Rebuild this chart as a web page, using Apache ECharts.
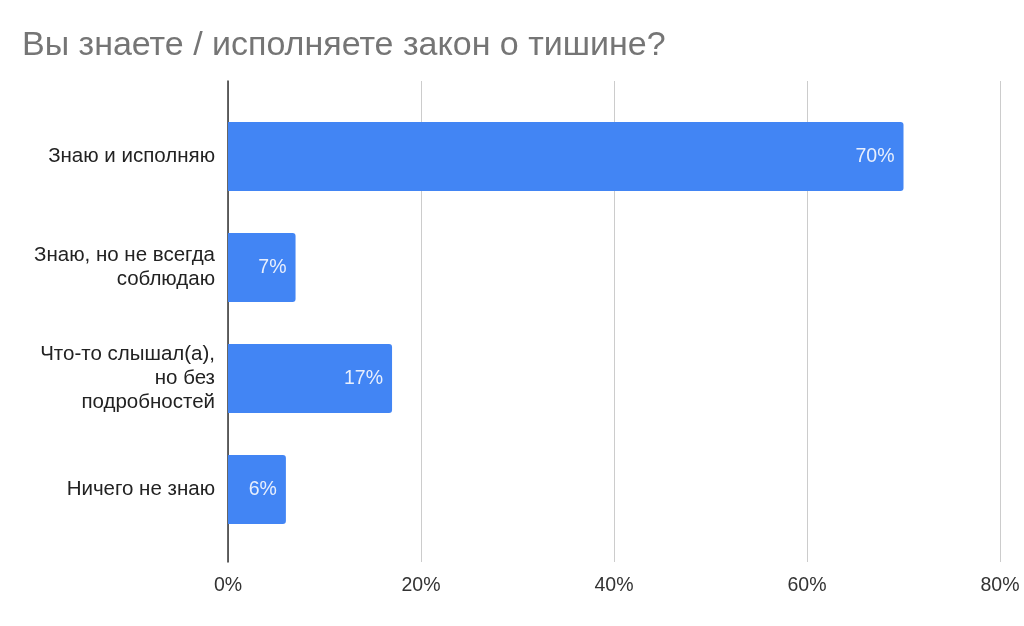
<!DOCTYPE html>
<html><head><meta charset="utf-8">
<script src="https://cdn.jsdelivr.net/npm/echarts@6/dist/echarts.min.js"></script>
<style>html,body{margin:0;padding:0;background:#fff}#c{width:1024px;height:626px}</style>
</head><body><div id="c"></div>
<script>
const titleText = 'Вы знаете / исполняете закон о тишине?';
const categories = ['Знаю и исполняю', 'Знаю, но не всегда\nсоблюдаю', 'Что-то слышал(а),\nно без\nподробностей', 'Ничего не знаю'];
const values = [70, 7, 17, 6];
const xTicks = [0, 20, 40, 60, 80];

const chart = echarts.init(document.getElementById('c'));
const font = '"Liberation Sans", Arial, sans-serif';
chart.setOption({
  animation: false,
  title: { text: titleText, left: 17, top: 24, textStyle: { fontFamily: font, fontSize: 34, fontWeight: 'normal', color: '#757575' } },
  grid: [
    { left: 228, right: 24, top: 101, bottom: 81 },
    { left: 228, right: 24, top: 81, bottom: 64 }
  ],
  xAxis: [
    { gridIndex: 0, type: 'value', min: 0, max: 80, interval: 20, show: false },
    { gridIndex: 1, type: 'value', min: xTicks[0], max: xTicks[xTicks.length-1], interval: 20,
      axisLine: { show: false }, axisTick: { show: false },
      splitLine: { show: true, lineStyle: { color: '#cccccc', width: 1 } },
      axisLabel: { formatter: v => v + '%', fontFamily: font, fontSize: 19.5, color: '#333', margin: 14 } }
  ],
  yAxis: [
    { gridIndex: 0, type: 'category', data: categories, inverse: true,
      axisLine: { show: false }, axisTick: { show: false },
      axisLabel: { fontFamily: font, fontSize: 20.5, color: '#222', margin: 13, lineHeight: 24, align: 'right' } },
    { gridIndex: 1, type: 'value', min: 0, max: 1,
      axisLine: { show: true, onZero: false, lineStyle: { color: '#333', width: 1.5 } },
      axisTick: { show: false }, axisLabel: { show: false }, splitLine: { show: false } }
  ],
  series: [{
    type: 'bar', xAxisIndex: 0, yAxisIndex: 0, data: values,
    barCategoryGap: '38%',
    itemStyle: { color: '#4285F4', borderRadius: [0, 3, 3, 0] },
    label: { show: true, position: 'insideRight', distance: 9, formatter: p => p.value + '%',
      fontFamily: font, fontSize: 19.5, color: '#e8effd' }
  }]
});
</script></body></html>
